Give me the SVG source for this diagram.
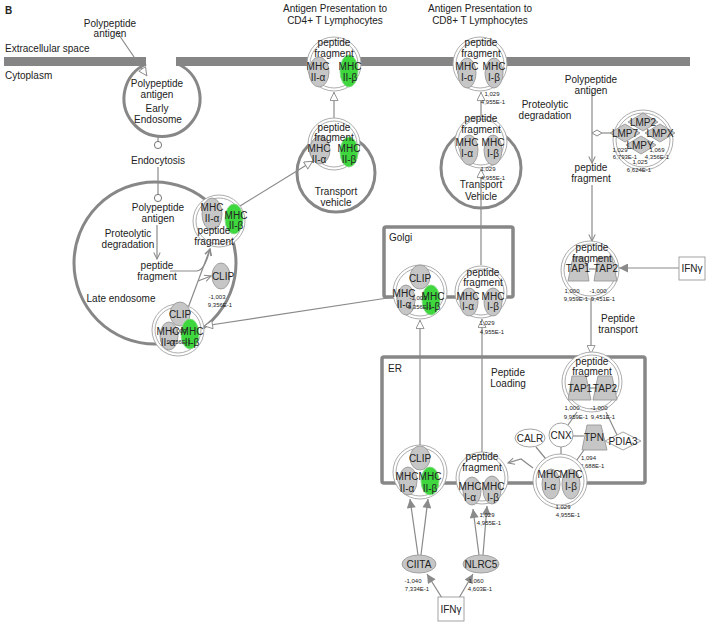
<svg xmlns="http://www.w3.org/2000/svg" width="708" height="624" viewBox="0 0 708 624">
<style>
.t{font-family:"Liberation Sans",Arial,sans-serif;font-size:10px;fill:#222;text-anchor:middle}
.s{font-size:6px}
.st{text-anchor:start}
.org{fill:none;stroke:#878787;stroke-width:3}
.box{fill:none;stroke:#878787;stroke-width:3.5}
.cx{fill:#fff;stroke:#a3a3a3;stroke-width:0.9}
.ci{fill:none;stroke:#a3a3a3;stroke-width:0.9}
.g{fill:#c6c6c6;stroke:#999;stroke-width:0.9}
.gr{fill:#3ed83e;stroke:#84d884;stroke-width:0.9}
.w{fill:#fff;stroke:#999;stroke-width:0.9}
.ln{fill:none;stroke:#8a8a8a;stroke-width:1.2}
</style>
<defs>
<marker id="tri" viewBox="0 0 10 10" refX="10" refY="5" markerWidth="10" markerHeight="9" markerUnits="userSpaceOnUse" orient="auto"><path d="M0.5,0.5 L9.5,5 L0.5,9.5 Z" fill="#fff" stroke="#8a8a8a" stroke-width="1"/></marker>
<marker id="vee" viewBox="0 0 10 10" refX="9" refY="5" markerWidth="8" markerHeight="8" markerUnits="userSpaceOnUse" orient="auto"><path d="M1,1 L9,5 L1,9" fill="none" stroke="#8a8a8a" stroke-width="1.3"/></marker>
<marker id="arr" viewBox="0 0 10 10" refX="10" refY="5" markerWidth="10" markerHeight="9" markerUnits="userSpaceOnUse" orient="auto"><path d="M0,0 L10,5 L0,10 Z" fill="#8a8a8a"/></marker>
<marker id="circ" viewBox="0 0 10 10" refX="5" refY="5" markerWidth="9" markerHeight="9" markerUnits="userSpaceOnUse" orient="auto"><circle cx="5" cy="5" r="4" fill="#fff" stroke="#666" stroke-width="1"/></marker>
</defs>
<rect width="708" height="624" fill="#fff"/>
<text x="5" y="14" class="t st" style="font-weight:bold">B</text>

<g id="organelles">
<path class="org" d="M146,64 A38,38 0 1 0 178,64"/>
<circle class="org" cx="155" cy="263" r="81"/>
<circle class="org" cx="336" cy="173" r="39"/>
<circle class="org" cx="481" cy="168" r="40"/>
<rect class="box" x="384" y="227" width="129" height="70" rx="2"/>
<rect class="box" x="382" y="357" width="263" height="126" rx="2"/>
</g>
<g id="membrane">
<rect x="4" y="57" width="142" height="9" fill="#858585"/>
<rect x="176" y="57" width="514" height="9" fill="#858585"/>
<text x="5" y="52" class="t st">Extracellular space</text>
<text x="5" y="79" class="t st">Cytoplasm</text>
</g>
<g id="labels">
<text x="335" y="12" class="t">Antigen Presentation to</text>
<text x="335" y="24" class="t">CD4+ T Lymphocytes</text>
<text x="480" y="12" class="t">Antigen Presentation to</text>
<text x="480" y="24" class="t">CD8+ T Lymphocytes</text>
<text x="157" y="112" class="t">Early</text>
<text x="158" y="123" class="t">Endosome</text>
<text x="158" y="164" class="t">Endocytosis</text>
<text x="128" y="237" class="t">Proteolytic</text>
<text x="128" y="248" class="t">degradation</text>
<text x="121" y="302" class="t">Late endosome</text>
<text x="336" y="195" class="t">Transport</text>
<text x="336" y="206" class="t">vehicle</text>
<text x="481" y="188" class="t">Transport</text>
<text x="481" y="200" class="t">Vehicle</text>
<text x="389" y="241" class="t st">Golgi</text>
<text x="388" y="372" class="t st">ER</text>
<text x="545" y="108" class="t">Proteolytic</text>
<text x="545" y="119" class="t">degradation</text>
<text x="618" y="322" class="t">Peptide</text>
<text x="618" y="333" class="t">transport</text>
<text x="508" y="376" class="t">Peptide</text>
<text x="508" y="387" class="t">Loading</text>
</g>

<g id="connectors">
<line class="ln" x1="117" y1="32" x2="147" y2="76" marker-end="url(#tri)"/>
<line class="ln" x1="158" y1="137" x2="158" y2="145" marker-end="url(#circ)"/>
<line class="ln" x1="158" y1="167" x2="158" y2="198" marker-end="url(#circ)"/>
<line class="ln" x1="157" y1="225" x2="157" y2="259" marker-end="url(#vee)"/>
<path class="ln" d="M170,271 L197,271 Q205,270 210,249" marker-end="url(#vee)"/>
<line class="ln" x1="188" y1="308" x2="210" y2="249" marker-end="url(#vee)"/>
<line class="ln" x1="198" y1="281" x2="211" y2="276" marker-end="url(#vee)"/>
<line class="ln" x1="394" y1="297" x2="204" y2="326" marker-end="url(#tri)"/>
<line class="ln" x1="240" y1="206" x2="313" y2="161" marker-end="url(#tri)"/>
<line class="ln" x1="334" y1="120" x2="334" y2="92" marker-end="url(#tri)"/>
<line class="ln" x1="481" y1="116" x2="481" y2="92" marker-end="url(#tri)"/>
<line class="ln" x1="481" y1="265" x2="481" y2="169" marker-end="url(#tri)"/>
<line class="ln" x1="482" y1="452" x2="482" y2="319" marker-end="url(#tri)"/>
<line class="ln" x1="420" y1="445" x2="420" y2="320" marker-end="url(#tri)"/>
<line class="ln" x1="592" y1="92" x2="592" y2="163" marker-end="url(#vee)"/>
<line class="ln" x1="602" y1="133" x2="614" y2="133"/>
<polygon points="592,133 597,130 602,133 597,136" fill="#fff" stroke="#8a8a8a" stroke-width="1"/>
<line class="ln" x1="592" y1="185" x2="592" y2="241" marker-end="url(#vee)"/>
<line class="ln" x1="679" y1="268" x2="619" y2="268" marker-end="url(#arr)"/>
<line class="ln" x1="591" y1="299" x2="591" y2="354" marker-end="url(#tri)"/>
<line class="ln" x1="568" y1="425" x2="577" y2="412"/>
<line class="ln" x1="617" y1="435" x2="606" y2="412"/>
<line class="ln" x1="573" y1="436" x2="584" y2="436"/>
<line class="ln" x1="536" y1="447" x2="550" y2="464"/>
<line class="ln" x1="561" y1="447" x2="561" y2="456"/>
<line class="ln" x1="584" y1="450" x2="574" y2="464"/>
<path class="ln" d="M533,468 L521,459 L508,463" marker-end="url(#vee)"/>
<line class="ln" x1="418" y1="555" x2="410" y2="499" marker-end="url(#arr)"/>
<line class="ln" x1="421" y1="555" x2="428" y2="499" marker-end="url(#arr)"/>
<line class="ln" x1="479" y1="555" x2="473" y2="509" marker-end="url(#arr)"/>
<line class="ln" x1="483" y1="555" x2="487" y2="506" marker-end="url(#arr)"/>
<line class="ln" x1="442" y1="598" x2="427" y2="574" marker-end="url(#arr)"/>
<line class="ln" x1="459" y1="598" x2="473" y2="574" marker-end="url(#arr)"/>
</g>

<g id="ext-antigen">
<text x="110" y="27" class="t">Polypeptide</text>
<text x="110" y="37" class="t">antigen</text>
</g>
<g id="early-antigen">
<text x="157" y="87" class="t">Polypeptide</text>
<text x="157" y="98" class="t">antigen</text>
</g>
<g id="late-antigen">
<text x="158" y="211" class="t">Polypeptide</text>
<text x="158" y="222" class="t">antigen</text>
</g>
<g id="late-fragment">
<text x="157" y="269" class="t">peptide</text>
<text x="157" y="280" class="t">fragment</text>
</g>

<g id="late-mhc2-peptide">
<circle class="cx" cx="219" cy="221" r="26"/><circle class="ci" cx="219" cy="221" r="23"/>
<ellipse class="g" cx="212" cy="214" rx="10" ry="16"/>
<ellipse class="gr" cx="234" cy="219" rx="9" ry="15"/>
<text x="212" y="211" class="t">MHC</text><text x="212" y="222" class="t">II-α</text>
<text x="236" y="219" class="t">MHC</text><text x="236" y="229" class="t">II-β</text>
<text x="214" y="234" class="t">peptide</text><text x="214" y="245" class="t">fragment</text>
</g>
<g id="late-clip">
<ellipse class="g" cx="221" cy="276" rx="9" ry="13"/>
<text x="223" y="280" class="t">CLIP</text>
<text x="217" y="299" class="t s">-1,003</text>
<text x="220" y="307" class="t s">9,356E-1</text>
</g>
<g id="late-mhc2-clip">
<circle class="cx" cx="178" cy="330" r="26"/><circle class="ci" cx="178" cy="330" r="23"/>
<ellipse class="g" cx="180" cy="314" rx="10" ry="12"/>
<ellipse class="g" cx="169" cy="336" rx="9" ry="14"/>
<ellipse class="gr" cx="190" cy="334" rx="9" ry="15"/>
<text x="180" y="318" class="t">CLIP</text>
<text x="168" y="335" class="t">MHC</text><text x="168" y="346" class="t">II-α</text>
<text x="192" y="335" class="t">MHC</text><text x="192" y="346" class="t">II-β</text>
<text x="178" y="333" class="t s">-1,003</text><text x="179" y="344" class="t s">9,356E-1</text>
</g>

<g id="cd4-vehicle-complex">
<circle class="cx" cx="334" cy="144" r="26"/><circle class="ci" cx="334" cy="144" r="23"/>
<ellipse class="g" cx="320" cy="150" rx="10" ry="14"/>
<ellipse class="gr" cx="349" cy="152" rx="9" ry="15"/>
<text x="334" y="131" class="t">peptide</text><text x="334" y="141" class="t">fragment</text>
<text x="319" y="152" class="t">MHC</text><text x="319" y="163" class="t">II-α</text>
<text x="349" y="152" class="t">MHC</text><text x="349" y="163" class="t">II-β</text>
</g>
<g id="cd4-surface-complex">
<circle class="cx" cx="334" cy="64" r="27"/><circle class="ci" cx="334" cy="64" r="24"/>
<ellipse class="g" cx="319" cy="72" rx="10" ry="15"/>
<ellipse class="gr" cx="349" cy="71" rx="9" ry="16"/>
<text x="334" y="46" class="t">peptide</text><text x="334" y="57" class="t">fragment</text>
<text x="318" y="70" class="t">MHC</text><text x="318" y="81" class="t">II-α</text>
<text x="350" y="70" class="t">MHC</text><text x="350" y="81" class="t">II-β</text>
</g>

<g id="cd8-surface-complex">
<circle class="cx" cx="480" cy="64" r="27"/><circle class="ci" cx="480" cy="64" r="24"/>
<ellipse class="g" cx="467" cy="73" rx="9" ry="15"/>
<ellipse class="g" cx="494" cy="73" rx="9" ry="15"/>
<text x="481" y="46" class="t">peptide</text><text x="481" y="57" class="t">fragment</text>
<text x="467" y="70" class="t">MHC</text><text x="467" y="81" class="t">I-α</text>
<text x="494" y="70" class="t">MHC</text><text x="494" y="81" class="t">I-β</text>
<text x="492" y="96" class="t s">1,029</text><text x="493" y="104" class="t s">4,955E-1</text>
</g>
<g id="cd8-vehicle-complex">
<circle class="cx" cx="481" cy="142" r="26"/><circle class="ci" cx="481" cy="142" r="23"/>
<ellipse class="g" cx="469" cy="150" rx="9" ry="15"/>
<ellipse class="g" cx="493" cy="150" rx="9" ry="15"/>
<text x="481" y="122" class="t">peptide</text><text x="481" y="133" class="t">fragment</text>
<text x="467" y="146" class="t">MHC</text><text x="467" y="157" class="t">I-α</text>
<text x="493" y="146" class="t">MHC</text><text x="493" y="157" class="t">I-β</text>
<text x="488" y="171" class="t s">1,029</text><text x="493" y="180" class="t s">4,955E-1</text>
</g>

<g id="golgi-mhc2-clip">
<circle class="cx" cx="420" cy="292" r="27"/><circle class="ci" cx="420" cy="292" r="24"/>
<ellipse class="g" cx="420" cy="277" rx="10" ry="12"/>
<ellipse class="g" cx="406" cy="300" rx="9" ry="15"/>
<ellipse class="gr" cx="431" cy="300" rx="9" ry="15"/>
<text x="420" y="282" class="t">CLIP</text>
<text x="404" y="297" class="t">MHC</text><text x="404" y="308" class="t">II-α</text>
<text x="433" y="300" class="t">MHC</text><text x="433" y="310" class="t">II-β</text>
<text x="418" y="300" class="t s">-1,003</text><text x="420" y="309" class="t s">9,356E-1</text>
</g>
<g id="golgi-mhc1">
<circle class="cx" cx="481" cy="292" r="26"/><circle class="ci" cx="481" cy="292" r="23"/>
<ellipse class="g" cx="469" cy="302" rx="9" ry="14"/>
<ellipse class="g" cx="493" cy="302" rx="9" ry="14"/>
<text x="483" y="276" class="t">peptide</text><text x="483" y="286" class="t">fragment</text>
<text x="468" y="300" class="t">MHC</text><text x="468" y="310" class="t">I-α</text>
<text x="493" y="300" class="t">MHC</text><text x="493" y="310" class="t">I-β</text>
<text x="487" y="325" class="t s">1,029</text><text x="492" y="334" class="t s">4,955E-1</text>
</g>

<g id="cyto-antigen">
<text x="591" y="83" class="t">Polypeptide</text>
<text x="591" y="94" class="t">antigen</text>
</g>
<g id="lmp-complex">
<circle class="cx" cx="643" cy="140" r="30"/><circle class="ci" cx="643" cy="140" r="27"/>
<polygon class="g" points="628,122 643,113 658,122 643,131"/>
<polygon class="g" points="610,133 625,124 640,133 625,142"/>
<polygon class="g" points="645,133 660,124 675,133 660,142"/>
<polygon class="g" points="626,145 641,136 656,145 641,154"/>
<text x="643" y="126" class="t">LMP2</text>
<text x="625" y="137" class="t">LMP7</text>
<text x="660" y="137" class="t">LMPX</text>
<text x="640" y="149" class="t">LMPY</text>
<text x="620" y="152" class="t s">1,029</text><text x="657" y="152" class="t s">1,069</text>
<text x="625" y="159" class="t s">6,793E-1</text><text x="657" y="159" class="t s">4,356E-1</text>
<text x="640" y="164" class="t s">1,025</text><text x="639" y="172" class="t s">6,624E-1</text>
</g>
<g id="cyto-fragment">
<text x="591" y="171" class="t">peptide</text>
<text x="591" y="182" class="t">fragment</text>
</g>
<g id="cyto-tap">
<circle class="cx" cx="590" cy="270" r="29"/><circle class="ci" cx="590" cy="270" r="26"/>
<polygon class="g" points="573,257 585,257 589,281 568,281"/>
<polygon class="g" points="598,257 612,257 617,281 594,281"/>
<line class="ln" x1="589" y1="269" x2="596" y2="269"/>
<text x="592" y="251" class="t">peptide</text><text x="592" y="262" class="t">fragment</text>
<text x="578" y="272" class="t">TAP1</text><text x="606" y="272" class="t">TAP2</text>
<text x="572" y="293" class="t s">1,000</text><text x="576" y="301" class="t s">9,959E-1</text>
<text x="598" y="293" class="t s">-1,000</text><text x="603" y="301" class="t s">9,451E-1</text>
</g>
<g id="ifng-right">
<rect x="679" y="257" width="26" height="23" fill="#fff" stroke="#999" stroke-width="0.9"/>
<text x="692" y="272" class="t">IFNγ</text>
</g>

<g id="er-tap">
<circle class="cx" cx="592" cy="382" r="30"/><circle class="ci" cx="592" cy="382" r="27"/>
<polygon class="g" points="572,376 586,376 591,400 568,400"/>
<polygon class="g" points="598,376 612,376 617,400 593,400"/>
<line class="ln" x1="590" y1="388" x2="597" y2="388"/>
<text x="592" y="365" class="t">peptide</text><text x="592" y="375" class="t">fragment</text>
<text x="580" y="392" class="t">TAP1</text><text x="605" y="392" class="t">TAP2</text>
<text x="572" y="410" class="t s">1,000</text><text x="576" y="419" class="t s">9,959E-1</text>
<text x="599" y="410" class="t s">-1,000</text><text x="603" y="419" class="t s">9,451E-1</text>
</g>
<g id="calr"><ellipse class="w" cx="530" cy="438" rx="15" ry="9"/><text x="530" y="442" class="t">CALR</text></g>
<g id="cnx"><circle class="w" cx="561" cy="435" r="12"/><text x="561" y="439" class="t">CNX</text></g>
<g id="tpn">
<polygon class="g" points="587,425 601,425 607,450 582,450"/>
<text x="594" y="441" class="t">TPN</text>
<text x="581" y="460" class="t s st">1,094</text><text x="580" y="468" class="t s st">2,688E-1</text>
</g>
<g id="pdia3"><polygon class="w" points="605,441 623,432 641,441 623,450"/><text x="623" y="445" class="t">PDIA3</text></g>

<g id="er-mhc2-clip">
<circle class="cx" cx="420" cy="472" r="27"/><circle class="ci" cx="420" cy="472" r="24"/>
<ellipse class="g" cx="420" cy="458" rx="10" ry="12"/>
<ellipse class="g" cx="408" cy="481" rx="9" ry="14"/>
<ellipse class="gr" cx="430" cy="481" rx="9" ry="14"/>
<text x="420" y="462" class="t">CLIP</text>
<text x="407" y="480" class="t">MHC</text><text x="407" y="492" class="t">II-α</text>
<text x="430" y="480" class="t">MHC</text><text x="430" y="492" class="t">II-β</text>
</g>
<g id="er-mhc1-peptide">
<circle class="cx" cx="482" cy="478" r="26"/><circle class="ci" cx="482" cy="478" r="23"/>
<ellipse class="g" cx="472" cy="491" rx="9" ry="14"/>
<ellipse class="g" cx="492" cy="490" rx="9" ry="14"/>
<text x="482" y="460" class="t">peptide</text><text x="482" y="471" class="t">fragment</text>
<text x="470" y="490" class="t">MHC</text><text x="470" y="501" class="t">I-α</text>
<text x="493" y="490" class="t">MHC</text><text x="493" y="501" class="t">I-β</text>
<text x="487" y="517" class="t s">1,029</text><text x="489" y="525" class="t s">4,955E-1</text>
</g>
<g id="er-mhc1">
<circle class="cx" cx="560" cy="481" r="27"/><circle class="ci" cx="560" cy="481" r="24"/>
<ellipse class="g" cx="551" cy="484" rx="9" ry="15"/>
<ellipse class="g" cx="571" cy="484" rx="9" ry="15"/>
<text x="549" y="478" class="t">MHC</text><text x="550" y="490" class="t">I-α</text>
<text x="571" y="478" class="t">MHC</text><text x="571" y="490" class="t">I-β</text>
<text x="563" y="509" class="t s">1,029</text><text x="568" y="517" class="t s">4,955E-1</text>
</g>

<g id="ciita">
<ellipse class="g" cx="419" cy="564" rx="17" ry="9"/>
<text x="419" y="568" class="t">CIITA</text>
<text x="413" y="583" class="t s">-1,040</text><text x="417" y="591" class="t s">7,334E-1</text>
</g>
<g id="nlrc5">
<ellipse class="g" cx="481" cy="564" rx="18" ry="9"/>
<text x="481" y="568" class="t">NLRC5</text>
<text x="476" y="583" class="t s">1,060</text><text x="480" y="591" class="t s">4,603E-1</text>
</g>
<g id="ifng-bottom">
<rect x="438" y="597" width="26" height="24" fill="#fff" stroke="#999" stroke-width="0.9"/>
<text x="451" y="613" class="t">IFNγ</text>
</g>
</svg>
